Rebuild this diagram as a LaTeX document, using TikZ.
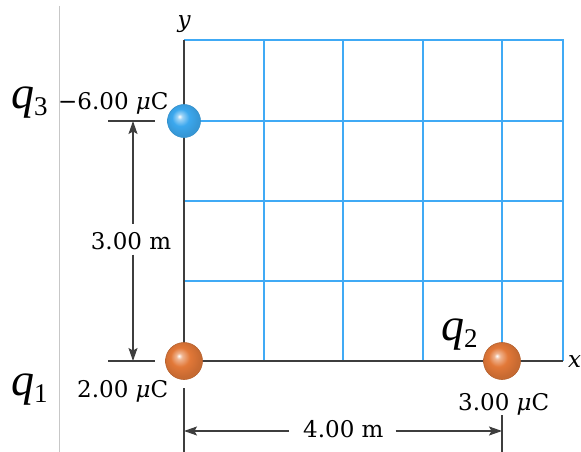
\documentclass[tikz,border=0pt]{standalone}
\usepackage{fontspec}
\setmainfont{DejaVu Serif}
\newfontfamily\qfont{Liberation Serif}
\usetikzlibrary{arrows.meta}
\definecolor{gridblue}{RGB}{64,170,245}
\definecolor{axisgray}{RGB}{62,62,62}
\definecolor{ballor}{RGB}{226,120,56}
\definecolor{ballbl}{RGB}{60,168,238}
\pgfdeclareradialshading{orangeball}{\pgfpoint{-7bp}{7bp}}{color(0bp)=(white); color(4bp)=(ballor!55!white); color(13bp)=(ballor); color(25bp)=(ballor!88!black); color(50bp)=(ballor!88!black)}
\pgfdeclareradialshading{blueball}{\pgfpoint{-7bp}{7bp}}{color(0bp)=(white); color(4bp)=(ballbl!50!white); color(13bp)=(ballbl); color(25bp)=(ballbl!90!black); color(50bp)=(ballbl!90!black)}
\newcommand{\qsym}[1]{{\qfont\itshape q}\raisebox{-7pt}{\qfont\fontsize{27}{30}\selectfont #1}}
\begin{document}
\begin{tikzpicture}[x=1pt,y=-1pt,
  gridline/.style={gridblue, line width=1.4pt},
  axisline/.style={axisgray, line width=1.3pt},
  dimline/.style={axisgray, line width=1.2pt},
  dimarrow/.style={dimline, -{Stealth[length=13pt,width=9pt,inset=2.5pt]}},
  lbl/.style={font=\fontsize{23}{28}\selectfont, inner sep=0pt},
  qlbl/.style={font=\fontsize{46}{52}\selectfont, inner sep=0pt},
  orcharge/.style={circle, inner sep=0pt, minimum size=37pt, shading=orangeball, draw=ballor!80!black, line width=0.6pt},
  blcharge/.style={circle, inner sep=0pt, minimum size=33pt, shading=blueball, draw=ballbl!85!black, line width=0.6pt}
]
\useasboundingbox (0,0) rectangle (581,452);
% thin gray margin line
\draw[black!22, line width=0.9pt] (59,6) -- (59,452);
% grid
\foreach \x in {264,343,423,502} \draw[gridline] (\x,40) -- (\x,361);
\foreach \y in {121,201,281} \draw[gridline] (184,\y) -- (563,\y);
\draw[gridline] (184,40) -- (563,40) -- (563,361);
% axes
\draw[axisline] (184,40) -- (184,361) -- (563,361);
\node[font=\fontsize{23}{28}\selectfont\itshape, inner sep=0pt, anchor=base] (ylab) at (184,28) {y};
\node[font=\fontsize{23}{28}\selectfont\itshape, inner sep=0pt, anchor=base west] (xlab) at (568,367) {x};
% charges
\node[orcharge] (q1) at (184,361) {};
\node[orcharge] (q2) at (502,361) {};
\node[blcharge] (q3) at (184,121) {};
% labels
\node[qlbl, anchor=base west] (q3lab) at (11,108) {\qsym{3}};
\node[qlbl, anchor=base west] (q1lab) at (11,395) {\qsym{1}};
\node[qlbl, anchor=base west] (q2lab) at (441,340) {\qsym{2}};
\node[lbl, anchor=base west] (c3) at (58,109) {−6.00 {\itshape μ}C};
\node[lbl, anchor=base west] (c1) at (77,397) {2.00 {\itshape μ}C};
\node[lbl, anchor=base west] (c2) at (458,410) {3.00 {\itshape μ}C};
% vertical dimension
\coordinate (ta) at (133,121);
\coordinate (tb) at (133,361);
\draw[dimline] (108,121) -- (155,121);
\draw[dimline] (108,361) -- (155,361);
\node[lbl, anchor=base] (d3) at (131,249) {3.00 m};
\draw[dimarrow] ([yshift=8pt]d3.north -| ta) -- (ta);
\draw[dimarrow] ([yshift=-5pt]d3.south -| tb) -- (tb);
% horizontal dimension
\coordinate (ha) at (184,431);
\coordinate (hb) at (502,431);
\draw[dimline] (184,388) -- (184,452);
\draw[dimline] (502,415) -- (502,452);
\node[lbl, anchor=base west] (d4) at (303,437) {4.00 m};
\draw[dimarrow] ([xshift=-14pt]d4.west |- ha) -- (ha);
\draw[dimarrow] ([xshift=12pt]d4.east |- hb) -- (hb);
\end{tikzpicture}
\end{document}
